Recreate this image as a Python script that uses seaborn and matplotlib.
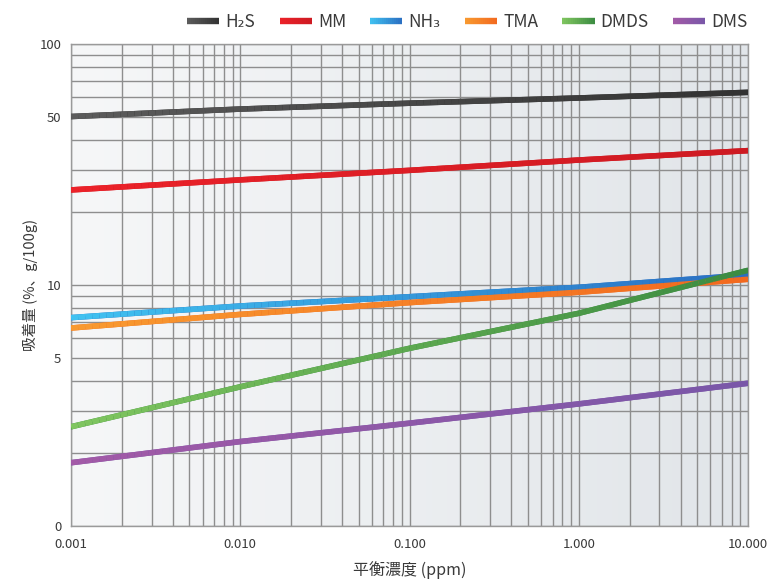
import numpy as np
import pandas as pd
import matplotlib
matplotlib.use("Agg")
import matplotlib.pyplot as plt
import seaborn as sns
from matplotlib.collections import LineCollection
from matplotlib.colors import to_rgb
from matplotlib.legend_handler import HandlerBase
from matplotlib.lines import Line2D
from matplotlib.ticker import FixedLocator, LogLocator, NullFormatter

# Equilibrium concentration (ppm) and adsorption amount (%, g/100g)
ppm = [0.001, 0.01, 0.1, 1.0, 10.0]
h2s = [50.0, 53.7, 56.8, 59.7, 63.0]
mm = [24.8, 27.3, 29.9, 33.0, 36.1]
nh3 = [7.32, 8.18, 8.94, 9.78, 11.0]
tma = [6.63, 7.55, 8.45, 9.33, 10.56]
dmds = [2.58, 3.78, 5.46, 7.63, 11.5]
dms = [1.83, 2.24, 2.67, 3.21, 3.91]

gases = ["H₂S", "MM", "NH₃", "TMA", "DMDS", "DMS"]
series = [h2s, mm, nh3, tma, dmds, dms]

x_ticks = [0.001, 0.01, 0.1, 1.0, 10.0]
x_tick_labels = ["0.001", "0.010", "0.100", "1.000", "10.000"]
y_ticks = [1, 5, 10, 50, 100]
y_tick_labels = ["0", "5", "10", "50", "100"]

# colour ramps: low-concentration end -> high-concentration end
ramps = {
    "H₂S": ("#5c5c5c", "#323232"),
    "MM": ("#ec2229", "#cd1a22"),
    "NH₃": ("#40c2f1", "#2a6ec2"),
    "TMA": ("#f89a30", "#f2691f"),
    "DMDS": ("#80c660", "#3b8b41"),
    "DMS": ("#a35aa7", "#7957a8"),
}

df = pd.DataFrame(
    [(g, x, y) for g, ys in zip(gases, series) for x, y in zip(ppm, ys)],
    columns=["gas", "ppm", "amount"],
)

sns.set_theme(style="white")
plt.rcParams["font.family"] = ["Noto Sans CJK JP", "DejaVu Sans"]
text_color = "#3a3a3a"

fig = plt.figure(figsize=(7.67, 5.85), dpi=100)
ax = fig.add_axes([0.0926, 0.1009, 0.8826, 0.8239])

LW = 4.0
sns.lineplot(
    data=df, x="ppm", y="amount", hue="gas", hue_order=gases,
    palette={g: ramps[g][1] for g in gases}, linewidth=LW,
    legend=False, ax=ax, zorder=3,
)
ax.set_xscale("log")
ax.set_yscale("log")

# background: soft left-to-right gray gradient
bg = np.linspace(0, 1, 256)[None, :]
bg_cmap = matplotlib.colors.LinearSegmentedColormap.from_list(
    "bg", ["#f6f7f8", "#e1e5e9"])
ax.imshow(bg, cmap=bg_cmap, extent=(0, 1, 0, 1), transform=ax.transAxes,
          aspect="auto", zorder=0, interpolation="bilinear")
ax.set_xlim(0.001, 10)
ax.set_ylim(1, 100)


def blend(c0, c1, t):
    a, b = np.array(to_rgb(c0)), np.array(to_rgb(c1))
    return a + (b - a) * t


# repaint each seaborn line with its colour ramp along log(x)
lx0, lx1 = np.log10(0.001), np.log10(10)
for line, g in zip(ax.get_lines(), gases):
    xy = line.get_xydata()
    segs, cols = [], []
    for (xa, ya), (xb, yb) in zip(xy[:-1], xy[1:]):
        k = 24
        t = np.linspace(0, 1, k + 1)
        xs = 10 ** (np.log10(xa) + (np.log10(xb) - np.log10(xa)) * t)
        ys = 10 ** (np.log10(ya) + (np.log10(yb) - np.log10(ya)) * t)
        for i in range(k):
            segs.append([(xs[i], ys[i]), (xs[i + 1], ys[i + 1])])
            tm = (np.log10(np.sqrt(xs[i] * xs[i + 1])) - lx0) / (lx1 - lx0)
            cols.append(blend(*ramps[g], tm))
    lc = LineCollection(segs, colors=cols, linewidths=LW, zorder=4,
                        capstyle="butt")
    ax.add_collection(lc)

# grid on every decade subdivision
ax.xaxis.set_major_locator(FixedLocator(x_ticks))
ax.xaxis.set_minor_locator(LogLocator(base=10, subs=np.arange(2, 10)))
ax.xaxis.set_minor_formatter(NullFormatter())
ax.set_xticklabels(x_tick_labels)
ax.yaxis.set_major_locator(FixedLocator(y_ticks))
ax.yaxis.set_minor_locator(LogLocator(base=10, subs=np.arange(2, 10)))
ax.yaxis.set_minor_formatter(NullFormatter())
ax.set_yticklabels(y_tick_labels)
ax.grid(True, which="both", color="#8e8e8e", linewidth=1.0, zorder=1)
ax.set_axisbelow(True)
ax.tick_params(which="both", length=0, labelsize=9.5, labelcolor=text_color)
ax.tick_params(axis="x", pad=9)
ax.tick_params(axis="y", pad=7)
for s in ax.spines.values():
    s.set_color("#9a9a9a")
    s.set_linewidth(1.0)

ax.set_xlabel("平衡濃度 (ppm)", fontsize=11.5, color=text_color, labelpad=7)
ax.set_ylabel("吸着量 (%、g/100g)", fontsize=10.5, color=text_color, labelpad=1)


class RampHandler(HandlerBase):
    def __init__(self, c0, c1):
        super().__init__()
        self.c0, self.c1 = c0, c1

    def create_artists(self, legend, orig_handle, xdescent, ydescent,
                       width, height, fontsize, trans):
        n = 16
        xs = np.linspace(-xdescent, width - xdescent, n + 1)
        y = height / 2 - ydescent
        segs = [[(xs[i], y), (xs[i + 1], y)] for i in range(n)]
        cols = [blend(self.c0, self.c1, (i + 0.5) / n) for i in range(n)]
        lc = LineCollection(segs, colors=cols, linewidths=4.6,
                            transform=trans, capstyle="butt")
        return [lc]


handles = [Line2D([], [], color=ramps[g][1], lw=LW) for g in gases]
hmap = {h: RampHandler(*ramps[g]) for h, g in zip(handles, gases)}
leg = fig.legend(
    handles, gases, handler_map=hmap, ncol=6, loc="upper right",
    bbox_to_anchor=(0.995, 1.005), frameon=False, fontsize=12.5,
    handlelength=1.85, handletextpad=0.35, columnspacing=1.4,
)
for t in leg.get_texts():
    t.set_color(text_color)

fig.savefig("out.png", dpi=100)
